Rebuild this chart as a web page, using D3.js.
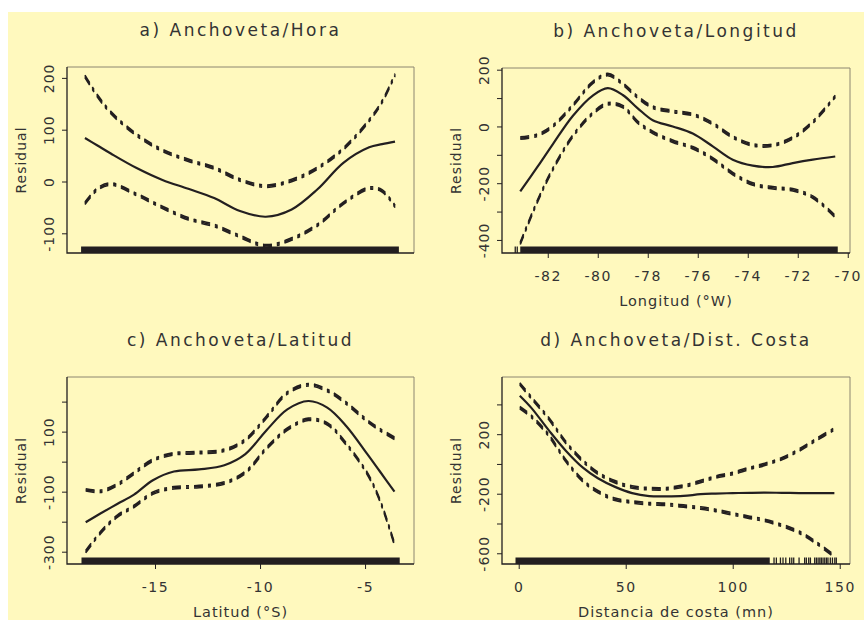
<!DOCTYPE html>
<html>
<head>
<meta charset="utf-8">
<script src="https://cdnjs.cloudflare.com/ajax/libs/d3/7.8.5/d3.min.js"></script>
<style>
    body { margin: 0; background: #fff; }
    svg text { font-family: "DejaVu Sans", Verdana, sans-serif; fill: #333; }
</style>
</head>
<body>
<svg width="864" height="620"></svg>
<script>
// a) hora
var horaX     = [0, 1, 2, 4, 6, 8, 10, 12, 14, 16, 18, 20, 22, 23, 24];
var horaFit   = [84, 69, 54, 26, 3, -14, -32, -57, -68, -54, -15, 36, 66, 72, 77];
var horaUpper = [203, 164, 133, 90, 60, 41, 26, 3, -9, 2, 26, 63, 118, 154, 206];
var horaLower = [-42, -14, -5, -25, -50, -72, -85, -106, -124, -111, -84, -42, -13, -18, -48];

// b) longitud
var lonX     = [-83.1, -82.4, -81.8, -81.0, -80.2, -79.6, -79.0, -78.4, -77.8, -77.0, -76.2, -75.4, -74.6, -73.8, -73.0, -72.2, -71.4, -70.5];
var lonFit   = [-229, -141, -63, 37, 109, 135, 111, 64, 22, 0, -25, -70, -117, -138, -143, -129, -117, -106];
var lonUpper = [-41, -30, 1, 74, 155, 183, 150, 103, 68, 53, 42, 10, -37, -65, -66, -40, 15, 106];
var lonLower = [-412, -261, -151, -34, 46, 80, 70, 15, -21, -52, -75, -114, -166, -203, -216, -223, -249, -318];
var lonTicks = [-82, -80, -78, -76, -74, -72, -70];

// c) latitud
var latX     = [-18.3, -17.6, -16.8, -16.0, -15.1, -14.1, -12.9, -11.7, -10.7, -9.7, -8.7, -7.7, -6.8, -5.9, -4.9, -4.3, -3.6];
var latFit   = [-202, -173, -141, -110, -62, -33, -26, -12, 25, 104, 174, 202, 180, 119, 26, -32, -100];
var latUpper = [-94, -99, -77, -38, 5, 26, 30, 38, 72, 148, 229, 256, 237, 195, 136, 107, 78];
var latLower = [-300, -237, -182, -149, -105, -87, -83, -71, -36, 44, 108, 141, 126, 59, -39, -128, -275];
var latTicks = [-15, -10, -5];

// d) distancia de costa
var distX     = [0.5, 6, 14, 22, 30, 37, 45, 53, 61, 69, 77, 85, 92, 100, 108, 115, 123, 131, 139, 147.5];
var distFit   = [458, 375, 227, 89, -25, -96, -154, -196, -216, -218, -215, -203, -199, -196, -194, -193, -194, -196, -196, -196];
var distUpper = [538, 443, 306, 145, 20, -62, -120, -155, -166, -166, -149, -118, -88, -64, -29, -3, 36, 93, 163, 235];
var distLower = [378, 318, 193, 22, -113, -186, -237, -256, -267, -272, -283, -296, -312, -336, -359, -379, -413, -459, -529, -620];
var distTicks = [0, 50, 100, 150];
var distRugSparse = [119.3, 120.4, 122.3, 123.5, 124.8, 126.6, 127.6, 128.5, 131, 133.6, 134.4, 135.5, 136.3,
    138.3, 139.1, 139.9, 140.7, 141.4, 142.2, 143, 143.8, 144.5, 145.6, 146.6, 147.7, 148.4];

var panels = [
    {
        title: 'a) Anchoveta/Hora', xs: horaX, fit: horaFit, upper: horaUpper, lower: horaLower,
        box: [67, 67, 414, 253], xDomain: [-1.39, 25.47], yDomain: [-138, 221],
        yTicks: [-100, 0, 100, 200], yLabels: [-100, 0, 100, 200],
        xTicks: null, xTitle: null, rug: [[-0.3, 24.3]], rugSparse: []
    },
    {
        title: 'b) Anchoveta/Longitud', xs: lonX, fit: lonFit, upper: lonUpper, lower: lonLower,
        box: [502, 68, 850, 253], xDomain: [-83.83, -69.91], yDomain: [-446, 206],
        yTicks: [-400, -300, -200, -100, 0, 100, 200], yLabels: [-400, -200, 0, 200],
        xTicks: lonTicks, xTitle: 'Longitud (°W)', rug: [[-83.1, -70.4]], rugSparse: [-83.3, -83.22]
    },
    {
        title: 'c) Anchoveta/Latitud', xs: latX, fit: latFit, upper: latUpper, lower: latLower,
        box: [67, 377, 414, 564], xDomain: [-19.19, -2.67], yDomain: [-341, 282],
        yTicks: [-300, -200, -100, 0, 100, 200], yLabels: [-300, -100, 100],
        xTicks: latTicks, xTitle: 'Latitud (°S)', rug: [[-18.5, -3.35]], rugSparse: []
    },
    {
        title: 'd) Anchoveta/Dist. Costa', xs: distX, fit: distFit, upper: distUpper, lower: distLower,
        box: [502, 377, 850, 564], xDomain: [-7.81, 154.8], yDomain: [-672, 584],
        yTicks: [-600, -400, -200, 0, 200, 400], yLabels: [-600, -200, 200],
        xTicks: distTicks, xTitle: 'Distancia de costa (mn)', rug: [[-1.5, 117.3]], rugSparse: distRugSparse
    }
];

var svg = d3.select('svg');
var ink = '#231f20';
var plain = function (d) { return String(d); };   // keep ascii hyphen for negatives

svg.append('rect')
    .attr('x', 8)
    .attr('y', 12)
    .attr('width', 856)
    .attr('height', 608)
    .attr('fill', '#fff9be')
;

panels.forEach(function (p) {
    var w = p.box[2] - p.box[0];
    var h = p.box[3] - p.box[1];
    var g = svg.append('g').attr('transform', 'translate(' + p.box[0] + ',' + p.box[1] + ')');

    var x = d3.scaleLinear().domain(p.xDomain).range([0, w]);
    var y = d3.scaleLinear().domain(p.yDomain).range([h, 0]);

    // rug
    g.selectAll('.rug')
        .data(p.rug)
        .enter()
        .append('rect')
            .attr('x', function (d) { return x(d[0]); })
            .attr('width', function (d) { return x(d[1]) - x(d[0]); })
            .attr('y', h - 6.5)
            .attr('height', 6.5)
            .attr('fill', ink)
    ;
    g.selectAll('.rugtick')
        .data(p.rugSparse)
        .enter()
        .append('line')
            .attr('x1', function (d) { return x(d); })
            .attr('x2', function (d) { return x(d); })
            .attr('y1', h - 6.5)
            .attr('y2', h)
            .attr('stroke', ink)
            .attr('stroke-width', 1.3)
    ;

    var line = d3.line()
        .x(function (d, i) { return x(p.xs[i]); })
        .y(function (d) { return y(d); })
        .curve(d3.curveCatmullRom.alpha(0.5))
    ;

    // confidence bands: dot-dash drawn with a tall thin "pen"
    [p.upper, p.lower].forEach(function (band) {
        [-1.2, 0, 1.2].forEach(function (off) {
            g.append('path')
                .attr('d', line(band))
                .attr('transform', 'translate(0,' + off + ')')
                .attr('fill', 'none')
                .attr('stroke', ink)
                .attr('stroke-width', 1.6)
                .attr('stroke-dasharray', '9,5,3,5')
            ;
        });
    });

    g.append('path')
        .attr('d', line(p.fit))
        .attr('fill', 'none')
        .attr('stroke', ink)
        .attr('stroke-width', 2.2)
    ;

    // frame
    g.append('path')
        .attr('d', 'M0,0H' + w + 'V' + h)
        .attr('fill', 'none')
        .attr('stroke', '#8c8670')
        .attr('stroke-width', 1)
    ;
    g.append('path')
        .attr('d', 'M0,0V' + h + 'H' + w)
        .attr('fill', 'none')
        .attr('stroke', ink)
        .attr('stroke-width', 1.3)
    ;

    var yAxis = g.append('g')
        .call(d3.axisLeft(y)
            .tickValues(p.yTicks)
            .tickSize(5)
            .tickFormat(function (d) { return p.yLabels.indexOf(d) >= 0 ? String(d) : ''; }))
    ;
    yAxis.select('.domain').remove();
    yAxis.selectAll('line').attr('stroke', ink);
    yAxis.selectAll('text')
        .attr('transform', 'rotate(-90)')
        .attr('x', 0)
        .attr('y', -13)
        .attr('dy', null)
        .attr('text-anchor', 'middle')
        .style('font-size', '14px')
        .style('letter-spacing', '1px')
        .style('font-family', '"DejaVu Sans", Verdana, sans-serif')
        .attr('fill', '#333')
    ;

    g.append('text')
        .attr('transform', 'translate(-41,' + (h / 2) + ') rotate(-90)')
        .attr('text-anchor', 'middle')
        .style('font-size', '14px')
        .style('letter-spacing', '1px')
        .text('Residual')
    ;

    if (p.xTicks) {
        var xAxis = g.append('g')
            .attr('transform', 'translate(0,' + h + ')')
            .call(d3.axisBottom(x).tickValues(p.xTicks).tickSize(5).tickFormat(plain))
        ;
        xAxis.select('.domain').remove();
        xAxis.selectAll('line').attr('stroke', ink);
        xAxis.selectAll('text')
            .attr('y', 28)
            .attr('dy', null)
            .style('font-size', '14px')
            .style('letter-spacing', '1.5px')
            .style('font-family', '"DejaVu Sans", Verdana, sans-serif')
            .attr('fill', '#333')
        ;
        g.append('text')
            .attr('x', w / 2)
            .attr('y', h + 53)
            .attr('text-anchor', 'middle')
            .style('font-size', '14.5px')
            .style('letter-spacing', '1px')
            .text(p.xTitle)
        ;
    }

    g.append('text')
        .attr('x', w / 2)
        .attr('y', -31)
        .attr('text-anchor', 'middle')
        .style('font-size', '17px')
        .style('letter-spacing', '2.5px')
        .text(p.title)
    ;
});
</script>
</body>
</html>
